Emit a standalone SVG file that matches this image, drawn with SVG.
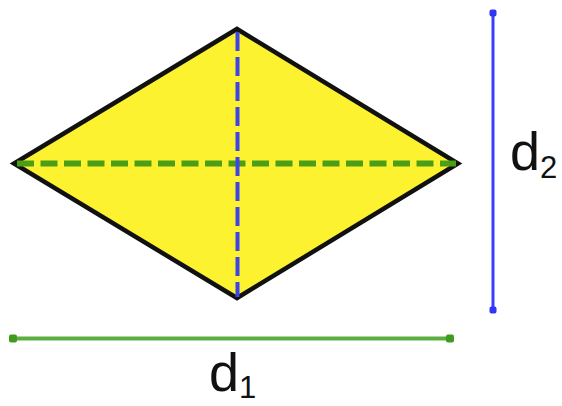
<svg xmlns="http://www.w3.org/2000/svg" width="562" height="406" viewBox="0 0 562 406">
<style>
.shape{fill:#fdf22f;stroke:#111;stroke-width:4.5;stroke-linejoin:miter}
.d1dash{stroke:#4c9e17;stroke-width:6;stroke-dasharray:17 6.5;fill:none}
.d2dash{stroke:#3d45e6;stroke-width:4;stroke-dasharray:19 6;fill:none}
.lbl{font-family:"Liberation Sans",Arial,sans-serif;fill:#111}
</style>
<rect width="562" height="406" fill="#fff"/>
<g id="rhombus">
<polygon class="shape" points="237,29 458,163.5 237,298 14,163.5"/>
</g>
<g id="connectors">
<line class="d1dash" x1="17" y1="163.5" x2="456" y2="163.5"/>
<line class="d2dash" x1="237.5" y1="32" x2="237.5" y2="297"/>
<line x1="493" y1="13" x2="493" y2="310" stroke="#3a3cff" stroke-width="3"/>
<rect x="489.5" y="9.5" width="7" height="7" rx="2" fill="#2f37f5"/>
<rect x="489.5" y="306.5" width="7" height="7" rx="2" fill="#2f37f5"/>
<line x1="13" y1="338.5" x2="450" y2="338.5" stroke="#5aaf40" stroke-width="4"/>
<rect x="9" y="334.5" width="8" height="8" rx="2" fill="#3f9a20"/>
<rect x="446" y="334.5" width="8" height="8" rx="2" fill="#3f9a20"/>
</g>
<g id="label-d1">
<text class="lbl" x="209" y="391" font-size="54">d<tspan font-size="31" dy="7">1</tspan></text>
</g>
<g id="label-d2">
<text class="lbl" x="510" y="170" font-size="54">d<tspan font-size="31" dy="8">2</tspan></text>
</g>
</svg>
